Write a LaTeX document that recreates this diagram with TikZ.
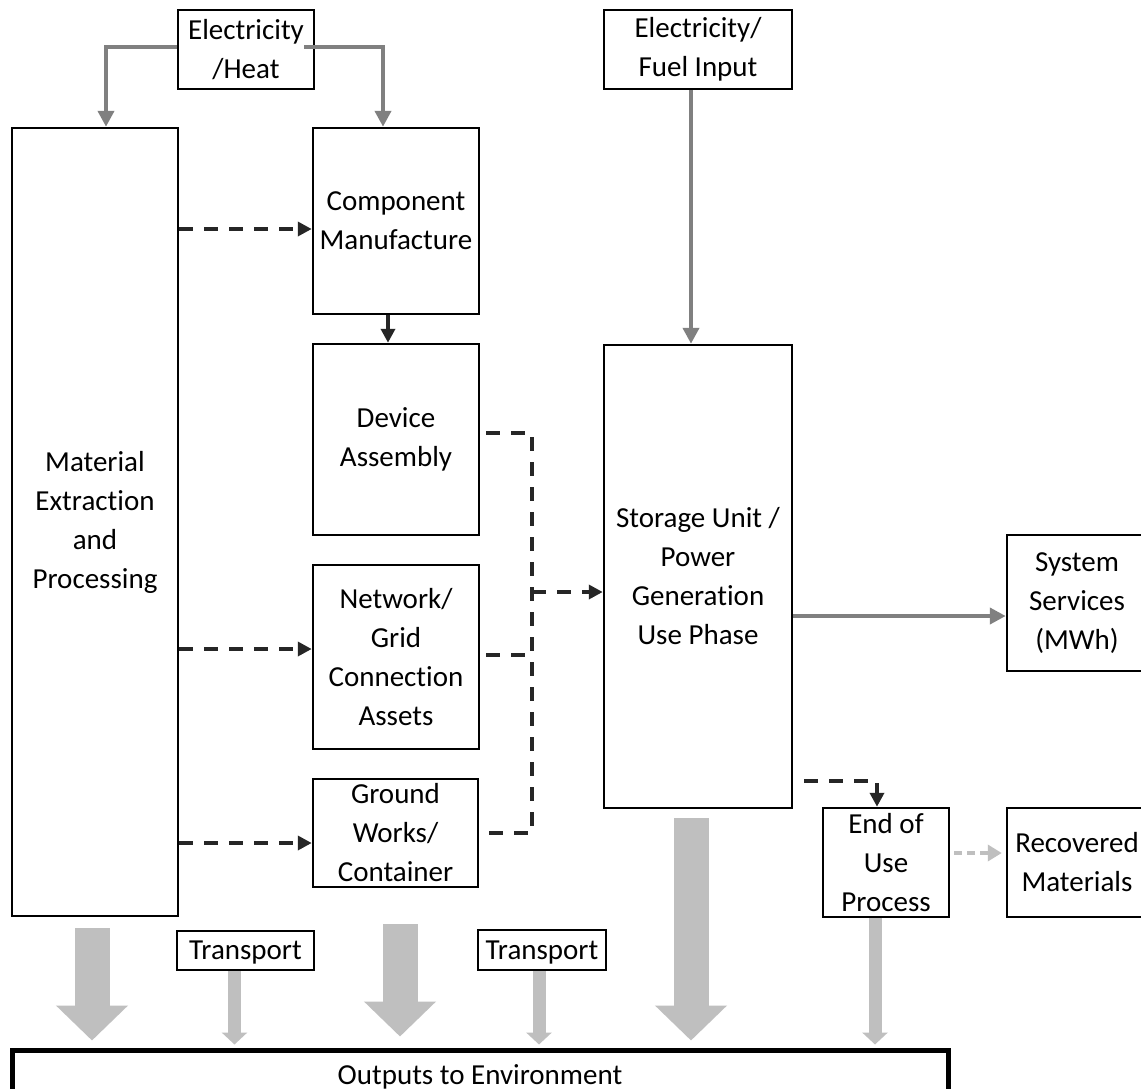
\documentclass[tikz,border=0pt]{standalone}
\usepackage{fontspec}
\setmainfont{Carlito}[Ligatures=NoCommon]
\usetikzlibrary{arrows.meta}
\definecolor{dk}{RGB}{38,38,38}
\definecolor{gr}{RGB}{128,128,128}
\definecolor{lg}{RGB}{191,191,191}
\tikzset{
  box/.style={draw=black, line width=2.5pt, inner sep=0pt, align=center,
    font=\fontsize{29pt}{39pt}\selectfont},
  dsh/.style={draw=dk, line width=3.5pt, dash pattern=on 14pt off 11pt},
  dtip/.style={-{Triangle[length=14pt,width=14pt]}},
  garrow/.style={draw=gr, line width=4pt, -{Triangle[length=16pt,width=16pt]}},
  lgdash/.style={draw=lg, line width=3.5pt, dash pattern=on 8pt off 5pt, -{Triangle[length=14pt,width=16pt]}},
  blk/.style={draw=lg, line width=35pt, -{Triangle[length=35pt,width=70pt]}},
  thin/.style={draw=lg, line width=13pt, -{Triangle[length=12pt,width=25pt]}},
}
\begin{document}
\begin{tikzpicture}[x=1pt, y=-1pt]
\path[use as bounding box, clip] (0,0) rectangle (1141,1088);
\fill[white] (0,0) rectangle (1141,1088);

% nodes
\node[box, minimum width=136pt, minimum height=79pt] (heat) at (246,49.5) {Electricity\\/Heat};
\node[box, minimum width=166pt, minimum height=788pt] (mat) at (95,522) {Material\\Extraction\\and\\Processing};
\node[box, minimum width=166pt, minimum height=186pt] (comp) at (396,221) {Component\\Manufacture};
\node[box, minimum width=166pt, minimum height=191pt] (dev) at (396,439.5) {Device\\Assembly};
\node[box, minimum width=166pt, minimum height=184pt] (net) at (396,657) {Network/\\Grid\\Connection\\Assets};
\node[box, minimum width=165pt, minimum height=108pt] (gw) at (395.5,833) {Ground\\Works/\\Container};
\node[box, minimum width=188pt, minimum height=79pt] (fuel) at (698,49.5) {Electricity/\\Fuel Input};
\node[box, minimum width=188pt, minimum height=463pt] (sto) at (698,576.5) {Storage Unit /\\Power\\Generation\\Use Phase};
\node[box, minimum width=140pt, minimum height=136pt] (sys) at (1077,603) {System\\Services\\(MWh)};
\node[box, minimum width=126pt, minimum height=109pt] (eol) at (886,862.5) {End of\\Use\\Process};
\node[box, minimum width=140pt, minimum height=109pt] (rec) at (1077,862.5) {Recovered\\Materials};
\node[box, text depth=0pt, minimum width=137pt, minimum height=39pt] (tr1) at (245.5,950.5) {Transport};
\node[box, text depth=0pt, minimum width=128pt, minimum height=40pt] (tr2) at (542,950) {Transport};
\node[box, text depth=0pt, line width=5pt, minimum width=936pt, minimum height=50pt] (out) at (480,1075) {Outputs to Environment};

% electricity / heat feeds
\coordinate (hl) at (106,47);
\coordinate (hr) at (383,47);
\draw[garrow] (heat.west |- hl) -- (hl) -- (hl |- mat.north);
\draw[garrow, shorten <=-11pt] (heat.east |- hr) -- (hr) -- (hr |- comp.north);

% fuel input
\draw[garrow] ([xshift=-7pt]fuel.south) -- ([xshift=-7pt]fuel.south |- sto.north);

% material flows
\coordinate (m1) at (178,229);
\coordinate (m2) at (178,649);
\coordinate (m3) at (178,843);
\draw[dsh, dtip] (mat.east |- m1) -- (comp.west |- m1);
\draw[dsh, dtip] (mat.east |- m2) -- (net.west |- m2);
\draw[dsh, dtip] (mat.east |- m3) -- (gw.west |- m3);

% component -> device
\draw[draw=dk, line width=4pt, -{Triangle[length=14pt,width=14pt]}] ([xshift=-8pt]comp.south) -- ([xshift=-8pt]dev.north);

% bracket to storage
\coordinate (jt) at (532,433);
\coordinate (jn) at (532,655);
\coordinate (jb) at (532,833);
\coordinate (jm) at (532,592);
\draw[dsh, shorten <=6pt] (dev.east |- jt) -- (jt) -- (jb) -- (gw.east |- jb);
\draw[dsh, shorten <=6pt] (net.east |- jn) -- (jn);
\draw[dsh, dtip] (jm) -- (sto.west |- jm);

% storage -> system services
\coordinate (ss) at (900,616);
\draw[garrow] (sto.east |- ss) -- (sys.west |- ss);

% storage -> end of use
\coordinate (ec) at (877,781);
\draw[dsh, dtip, shorten <=11pt] (sto.east |- ec) -- (ec) -- (ec |- eol.north);

% end of use -> recovered
\coordinate (er) at (960,853);
\draw[lgdash, shorten <=4pt, shorten >=4pt] (eol.east |- er) -- (rec.west |- er);

% block arrows to environment
\coordinate (b1) at (92,928);
\coordinate (b2) at (400,924);
\coordinate (b3) at (691,818);
\draw[blk, shorten >=7pt] (b1) -- (b1 |- out.north);
\draw[blk, shorten >=11pt] (b2) -- (b2 |- out.north);
\draw[blk, shorten >=7pt] (b3) -- (b3 |- out.north);

% thin arrows
\draw[thin, shorten >=3pt] ([xshift=-11pt]tr1.south) -- ([xshift=-11pt]tr1.south |- out.north);
\draw[thin, shorten >=3pt] ([xshift=-3pt]tr2.south) -- ([xshift=-3pt]tr2.south |- out.north);
\draw[thin, shorten >=3pt] ([xshift=-11pt]eol.south) -- ([xshift=-11pt]eol.south |- out.north);
\end{tikzpicture}
\end{document}
